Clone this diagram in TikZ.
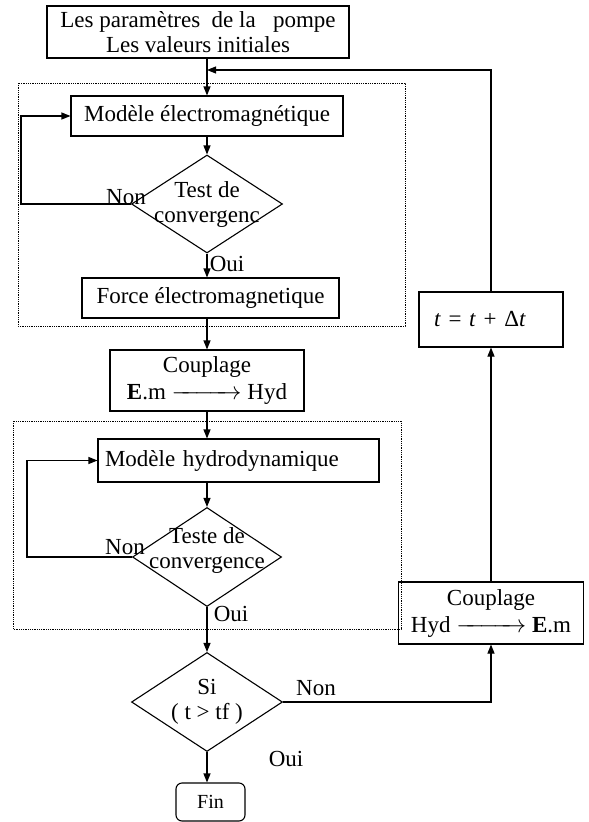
\documentclass[tikz,border=0pt]{standalone}
\usepackage{fontspec}
\setmainfont{Liberation Serif}
\usepackage{tikz}
\usetikzlibrary{shapes.geometric,arrows.meta}

\newcommand{\flechelongue}{\makebox[70pt]{\rightarrowfill}}

\begin{document}
\begin{tikzpicture}[x=1pt,y=-1pt,->,>={Triangle[length=9pt,width=7pt]},
	line width=1.1pt]
	
	\tikzstyle{every node}=[font=\fontsize{23}{25}\selectfont]
	\tikzstyle{block}=[draw,rectangle,inner sep=0pt,align=center]
	\tikzstyle{decision}=[draw,diamond,inner sep=0pt]
	\tikzstyle{cadre}=[-,densely dotted,line width=0.8pt]
	
	\useasboundingbox (0,0) rectangle (589,822);
	
	% les deux cadres pointilles
	\draw[cadre] (18,83) rectangle (405,326);
	\draw[cadre] (13,421) rectangle (401,629);
	
	\node[block,minimum width=302pt,minimum height=52pt] (param) at (198,32) {Les paramètres\ \ de la\ \ \ pompe\\Les valeurs initiales};
	\node[block,minimum width=272pt,minimum height=40pt] (em) at (207,116) {Modèle électromagnétique};
	\node[decision,minimum width=151pt,minimum height=98pt,
	label={[align=center]center:Test de\\convergenc}] (test1) at (207,204) {};
	\node[block,minimum width=257pt,minimum height=40pt] (force) at (210.5,298) {Force électromagnetique};
	\node[block,minimum width=194pt,minimum height=61pt,font=\fontsize{23}{27}\selectfont] (coup1) at (207,380.5) {Couplage\\\textbf{E}.m \flechelongue{} Hyd};
	\node[block,minimum width=281pt,minimum height=43pt,text width=267pt,align=left,inner xsep=7pt] (hydro) at (238.5,460.5) {Modèle hydrodynamique};
	\node[decision,minimum width=149pt,minimum height=99pt,
	label={[align=center,yshift=7pt]center:Teste de\\convergence}] (test2) at (207,557) {};
	\node[decision,minimum width=151pt,minimum height=99pt,
	label={[align=center]center:Si\\( t > tf )}] (si) at (207,702) {};
	\node[block,rounded corners=6pt,minimum width=69pt,minimum height=38pt,
	font=\fontsize{20}{22}\selectfont] (fin) at (210.5,802) {Fin};
	\node[block,minimum width=185pt,minimum height=62pt,font=\fontsize{23}{27}\selectfont] (coup2) at (491,613) {Couplage\\Hyd \flechelongue{} \textbf{E}.m};
	\node[block,minimum width=144pt,minimum height=55pt,text width=114pt,align=left,inner xsep=15pt] (incr) at (491,319.5) {\textit{t} = \textit{t} + Δ\textit{t}};
	\coordinate (retour) at (207,70);
	
	\node (non1) at (126,197) {Non};
	\node (oui1) at (227,264) {Oui};
	\node (non2) at (125,547) {Non};
	\node (oui2) at (231,614) {Oui};
	\node (non3) at (316,688) {Non};
	\node (oui3) at (286,759) {Oui};
	
	\draw (param.south -| em.north) -- (em.north);
	\draw (em) -- (test1);
	\draw (test1.west) -- ++(-110,0) |- (em.west);
	\draw (test1.south) -- (test1.south |- force.north);
	\draw (force.south -| coup1.north) -- (coup1.north);
	\draw (coup1.south) -- (coup1.south |- hydro.north);
	\draw (test2.north |- hydro.south) -- (test2.north);
	\draw (test2.west) -- ++(-105,0) |- (hydro.west);
	\draw (test2) -- (si);
	\draw (si.south) -- (si.south |- fin.north);
	\draw (si.east) -| (coup2.south);
	\draw (coup2) -- (incr);
	\draw (incr.north) |- (retour);
\end{tikzpicture}
\end{document}
